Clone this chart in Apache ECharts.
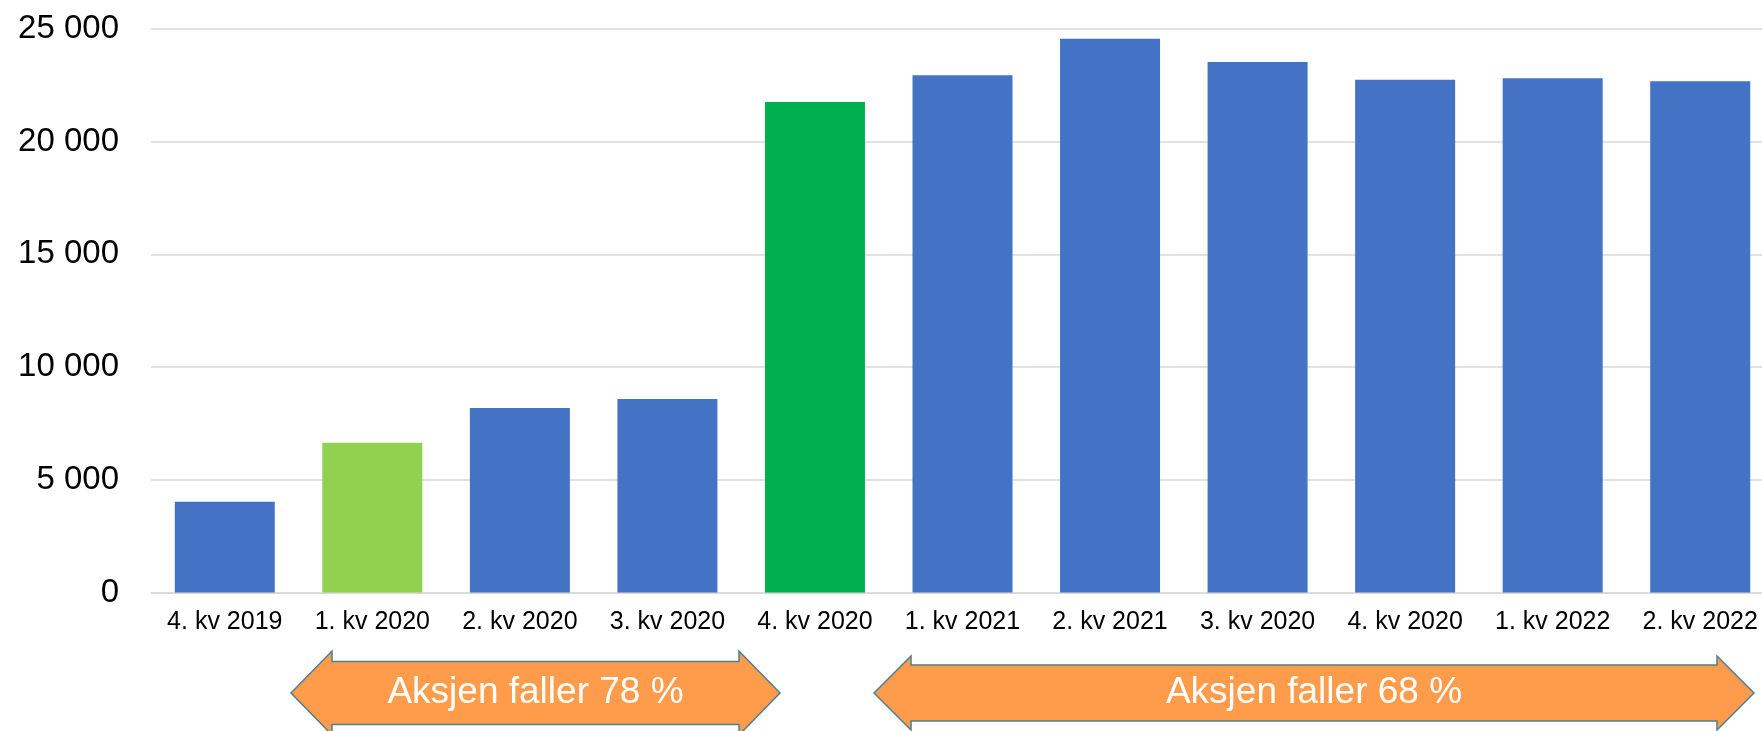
<!DOCTYPE html>
<html lang="no">
<head>
    <meta charset="UTF-8">
    <title>Aksjen faller</title>
    <script src="https://cdn.jsdelivr.net/npm/echarts@6/dist/echarts.min.js"></script>
    <style>
        html, body { margin: 0; padding: 0; background: #fff; }
        #chart { width: 1762px; height: 731px; }
    </style>
</head>
<body>
    <div id="chart"></div>
<script>
    // kvartaler og verdier lest av figuren
    let quarters = ['4. kv 2019', '1. kv 2020', '2. kv 2020', '3. kv 2020', '4. kv 2020',
        '1. kv 2021', '2. kv 2021', '3. kv 2020', '4. kv 2020', '1. kv 2022', '2. kv 2022'];
    let values = [4030, 6640, 8190, 8590, 21760, 22950, 24570, 23540, 22750, 22810, 22680];
    let yTicks = [0, 5000, 10000, 15000, 20000, 25000];
    let arrowTexts = ['Aksjen faller 78 %', 'Aksjen faller 68 %'];

    (function () {
        let blue = '#4472C4';
        let special = { 1: '#92D050', 4: '#00B050' }; // uthevede søyler

        let fmt = function (v) {
            return String(v).replace(/\B(?=(\d{3})+(?!\d))/g, ' ');
        };

        // dobbeltpil som polygon
        function arrow(tipL, inL, inR, tipR, cy, body, head, text) {
            return {
                type: 'group',
                children: [
                    {
                        type: 'polygon',
                        shape: {
                            points: [
                                [tipL, cy], [inL, cy - head], [inL, cy - body], [inR, cy - body],
                                [inR, cy - head], [tipR, cy], [inR, cy + head], [inR, cy + body],
                                [inL, cy + body], [inL, cy + head]
                            ]
                        },
                        style: { fill: '#FF9C4B', stroke: '#4E7F8E', lineWidth: 1.5 }
                    },
                    {
                        type: 'text',
                        x: (tipL + tipR) / 2,
                        y: cy,
                        style: {
                            text: text,
                            fill: '#fff',
                            font: '37px "Liberation Sans", sans-serif',
                            align: 'center',
                            verticalAlign: 'middle'
                        }
                    }
                ]
            };
        }

        let myChart = echarts.init(document.getElementById('chart'));
        let option = {
            animation: false,
            grid: { left: 151, top: 29, width: 1623, height: 563.5, outerBoundsMode: 'none' },
            xAxis: {
                type: 'category',
                data: quarters,
                axisTick: { show: false },
                axisLine: { lineStyle: { color: '#D9D9D9', width: 1.5 } },
                axisLabel: {
                    color: '#000',
                    fontSize: 25,
                    fontFamily: 'Liberation Sans',
                    margin: 17,
                    interval: 0
                }
            },
            yAxis: {
                type: 'value',
                min: yTicks[0],
                max: yTicks[yTicks.length - 1],
                interval: yTicks[1] - yTicks[0],
                axisLine: { show: false },
                axisTick: { show: false },
                splitLine: { lineStyle: { color: '#D9D9D9', width: 1.5 } },
                axisLabel: {
                    color: '#000',
                    fontSize: 33,
                    fontFamily: 'Liberation Sans',
                    margin: 32,
                    formatter: fmt
                }
            },
            series: [
                {
                    type: 'bar',
                    barWidth: 100,
                    data: values.map(function (v, i) {
                        return { value: v, itemStyle: { color: special[i] || blue } };
                    })
                }
            ],
            graphic: [
                arrow(291, 332, 739, 780, 693, 31.5, 42, arrowTexts[0]),
                arrow(874, 911, 1717, 1754, 693, 28, 37, arrowTexts[1])
            ]
        };
        myChart.setOption(option);
    })()
</script>
</body>
</html>
